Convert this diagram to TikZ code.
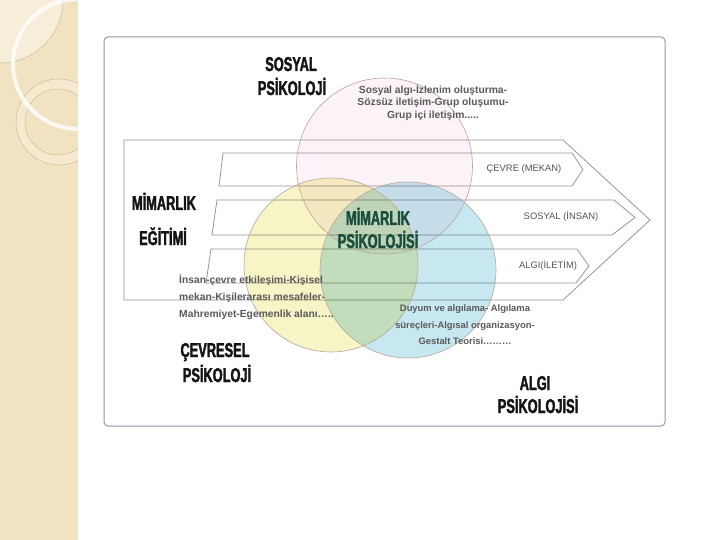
\documentclass[tikz,border=0pt]{standalone}
\usepackage{fontspec}
\setmainfont{Liberation Sans}
\newfontfamily\heavyfont{Liberation Sans}[FakeStretch=0.64,BoldFeatures={FakeBold=1.8}]
\definecolor{stripc}{RGB}{241,227,194}
\definecolor{stripl}{RGB}{247,238,218}
\definecolor{stripline}{RGB}{205,185,145}
\definecolor{framec}{RGB}{160,142,172}
\definecolor{arrowc}{RGB}{150,150,150}
\definecolor{pinkc}{RGB}{252,243,249}
\definecolor{yellowc}{RGB}{247,244,198}
\definecolor{bluec}{RGB}{200,232,241}
\definecolor{circline}{RGB}{185,165,150}
\definecolor{greentext}{RGB}{25,78,62}
\definecolor{smalltext}{RGB}{90,90,90}
\definecolor{labeltext}{RGB}{85,85,85}
\tikzset{
  heavy/.style={font=\heavyfont\bfseries\fontsize{20}{24}\selectfont, text=black!92, inner sep=0pt, anchor=base},
  centerlabel/.style={heavy, text=greentext},
  smallblock/.style={font=\bfseries\fontsize{10.3}{12.5}\selectfont, text=smalltext, inner sep=0pt},
  arrowlabel/.style={font=\fontsize{9.4}{11}\selectfont, text=labeltext, inner sep=0pt, anchor=base},
  arrowshape/.style={draw=arrowc, line width=0.8pt, line join=miter},
  venn/.style={draw=circline, line width=0.6pt}
}
\begin{document}
\begin{tikzpicture}[x=1pt,y=-1pt]
\useasboundingbox (0,0) rectangle (720,540);
\fill[white] (0,0) rectangle (720,540);
% left decorative strip
\fill[stripc] (0,0) rectangle (78,540);
\begin{scope}
  \clip (0,0) rectangle (78,540);
  \fill[stripl] (0,0) circle[radius=63];
  \draw[stripline, line width=0.5pt] (0,0) circle[radius=63];
  \fill[stripl!60!stripc, even odd rule] (59,122) circle[radius=43] (58,122) circle[radius=33];
  \draw[stripline, line width=0.5pt] (59,122) circle[radius=43];
  \draw[stripline, line width=0.5pt] (58,122) circle[radius=33];
  \draw[white, line width=4pt, opacity=0.8] (78,64) circle[radius=65];
\end{scope}
% frame
\draw[framec, line width=1pt, rounded corners=4pt] (104,37) rectangle (665,426);
% arrows
\draw[arrowshape] (124,140) -- (563,140) -- (650,220) -- (563,300) -- (124,300) -- cycle;
\draw[arrowshape] (223,153) -- (572,153) -- (583,169.5) -- (572,186) -- (219,186) -- cycle;
\draw[arrowshape] (217,200) -- (614,200) -- (635,217.5) -- (612,235) -- (212,235) -- cycle;
\draw[arrowshape] (211,249) -- (577,249) -- (589,266) -- (576,283) -- (206,283) -- cycle;
% venn circles
\coordinate (cS) at (384.5,166);
\coordinate (cC) at (331,265);
\coordinate (cA) at (408,270);
\begin{scope}[blend mode=multiply]
  \fill[pinkc] (cS) circle[radius=88];
  \fill[yellowc] (cC) circle[radius=87];
  \fill[bluec] (cA) circle[radius=88];
\end{scope}
\draw[venn] (cS) circle[radius=88];
\draw[venn] (cC) circle[radius=87];
\draw[venn] (cA) circle[radius=88];
% arrow labels
\node[arrowlabel] (lcevre) at (524,171.5) {ÇEVRE (MEKAN)};
\node[arrowlabel] (lsosyal) at (561,219.5) {SOSYAL (İNSAN)};
\node[arrowlabel] (lalgi) at (548,268.5) {ALGI(İLETİM)};
% heavy labels
\node[heavy] (sos1) at (291,71) {SOSYAL};
\node[heavy] (sos2) at (292,95) {PSİKOLOJİ};
\node[heavy] (mim1) at (164,210) {MİMARLIK};
\node[heavy] (mim2) at (163,245) {EĞİTİMİ};
\node[heavy] (cev1) at (215,357) {ÇEVRESEL};
\node[heavy] (cev2) at (217,382) {PSİKOLOJİ};
\node[heavy] (alg1) at (535,390) {ALGI};
\node[heavy] (alg2) at (538,413) {PSİKOLOJİSİ};
\node[centerlabel] (ctr1) at (378,225) {MİMARLIK};
\node[centerlabel] (ctr2) at (378,248) {PSİKOLOJİSİ};
% small text blocks
\node[smallblock, align=center, anchor=north] (tsos) at (433,84)
  {Sosyal algı-İzlenim oluşturma-\\Sözsüz iletişim-Grup oluşumu-\\Grup içi iletişim.....};
\node[smallblock, align=left, anchor=north west, font=\bfseries\fontsize{10.3}{17.3}\selectfont] (tcev) at (179,274)
  {İnsan-çevre etkileşimi-Kişisel\\mekan-Kişilerarası mesafeler-\\Mahremiyet-Egemenlik alanı…..};
\node[smallblock, align=center, anchor=north, font=\bfseries\fontsize{9.4}{16.5}\selectfont] (talg) at (465,304.5)
  {Duyum ve algılama- Algılama\\süreçleri-Algısal organizasyon-\\Gestalt Teorisi………};
\end{tikzpicture}
\end{document}
